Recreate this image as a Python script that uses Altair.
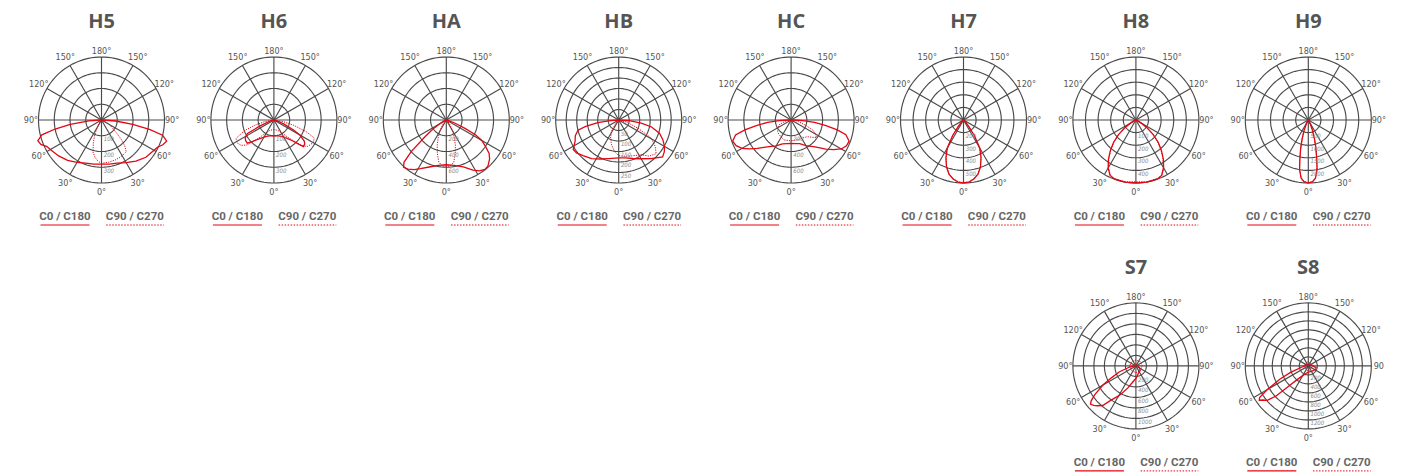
import altair as alt
import pandas as pd

# ---------------- data ----------------
NAMES = ["H5", "H6", "HA", "HB", "HC", "H7", "H8", "H9", "S7", "S8"]

# ring step (cd/klm), number of rings, ring labels
H5_STEP, H5_RINGS, H5_LABELS = 100, 4, ["100", "200", "300"]
H6_STEP, H6_RINGS, H6_LABELS = 100, 4, ["100", "200", "300"]
HA_STEP, HA_RINGS, HA_LABELS = 200, 4, ["200", "400", "600"]
HB_STEP, HB_RINGS, HB_LABELS = 50, 6, ["50", "100", "150", "200", "250"]
HC_STEP, HC_RINGS, HC_LABELS = 200, 4, ["200", "400", "600"]
H7_STEP, H7_RINGS, H7_LABELS = 100, 5, ["200", "300", "400", "500"]
H8_STEP, H8_RINGS, H8_LABELS = 100, 5, ["100", "200", "300", "400"]
H9_STEP, H9_RINGS, H9_LABELS = 500, 5, ["500", "1000", "1500", "2000"]
S7_STEP, S7_RINGS, S7_LABELS = 200, 6, ["200", "400", "600", "800", "1000"]
S8_STEP, S8_RINGS, S8_LABELS = 200, 7, ["200", "400", "600", "800", "1000", "1200"]

# gamma angle (negative = left half), intensity
H5_C0_ANG = [-180, -90, -86, -82, -79, -76, -72, -68, -64, -60, -50, -40, -30, -20, -10, 0, 10, 20, 30, 40, 50, 60, 64, 68, 72, 76, 79, 82, 86, 90, 180]
H5_C0_VAL = [0, 10, 80, 200, 300, 390, 425, 415, 385, 375, 355, 335, 310, 292, 284, 280, 284, 292, 312, 340, 368, 385, 395, 420, 435, 400, 310, 200, 90, 10, 0]
H5_C90_ANG = [-180, -60, -40, -30, -25, -20, -15, -10, -5, 0, 10, 20, 30, 38, 42, 46, 50, 60, 70, 90, 180]
H5_C90_VAL = [0, 5, 15, 50, 100, 150, 210, 240, 262, 275, 272, 268, 262, 255, 220, 170, 120, 60, 20, 0, 0]

H6_C0_ANG = [-180, -90, -75, -67, -63, -58, -54, -49, -45, -42, -35, -25, -15, 0, 15, 25, 35, 40, 45, 48, 52, 55, 60, 63, 68, 75, 90, 180]
H6_C0_VAL = [0, 0, 25, 92, 188, 215, 222, 224, 195, 172, 140, 115, 104, 100, 104, 115, 140, 164, 210, 252, 248, 236, 190, 140, 70, 25, 0, 0]
H6_C90_ANG = [-180, -90, -80, -75, -70, -64, -58, -52, -47, -40, -30, -20, 0, 20, 30, 40, 47, 52, 56, 61, 66, 70, 75, 80, 90, 180]
H6_C90_VAL = [0, 0, 60, 120, 200, 268, 275, 262, 232, 150, 90, 70, 60, 70, 90, 150, 240, 272, 280, 288, 280, 220, 130, 60, 0, 0]

HA_C0_ANG = [-180, -90, -75, -65, -60, -56, -52, -48, -45, -42, -38, -33, -28, -20, -10, 0, 10, 20, 28, 33, 38, 42, 48, 52, 56, 60, 63, 66, 70, 75, 90, 180]
HA_C0_VAL = [0, 0, 10, 40, 90, 200, 340, 600, 760, 810, 790, 750, 700, 635, 585, 568, 585, 632, 720, 770, 795, 790, 740, 690, 600, 520, 420, 260, 120, 40, 0, 0]
HA_C90_ANG = [-180, -60, -50, -40, -30, -25, -20, -15, -10, -5, 0, 5, 10, 15, 20, 25, 30, 40, 50, 60, 180]
HA_C90_VAL = [0, 0, 16, 64, 160, 240, 336, 440, 544, 584, 592, 584, 544, 440, 336, 240, 160, 64, 16, 0, 0]

HB_C0_ANG = [-180, -90, -86, -83, -79, -76, -70, -64, -57, -52, -45, -35, -25, -15, 0, 10, 20, 30, 40, 50, 55, 60, 66, 72, 78, 82, 86, 90, 180]
HB_C0_VAL = [0, 0, 40, 100, 160, 200, 220, 231, 258, 255, 240, 225, 205, 190, 180, 183, 195, 213, 240, 273, 265, 252, 230, 204, 160, 108, 50, 0, 0]
HB_C90_ANG = [-180, -60, -45, -32, -24, -16, -8, 0, 10, 20, 33, 40, 48, 54, 61, 67, 75, 90, 180]
HB_C90_VAL = [0, 0, 20, 66, 95, 123, 150, 170, 175, 182, 197, 225, 240, 215, 177, 99, 40, 0, 0]

HC_C0_ANG = [-180, -90, -87, -84, -81, -78, -75, -70, -65, -60, -55, -50, -45, -40, -30, -20, -10, 0, 10, 20, 30, 40, 45, 50, 55, 60, 65, 70, 75, 78, 81, 84, 87, 90, 180]
HC_C0_VAL = [0, 30, 150, 300, 448, 600, 730, 790, 770, 720, 640, 560, 490, 440, 380, 322, 304, 296, 304, 320, 376, 440, 496, 576, 656, 736, 776, 784, 720, 600, 448, 300, 150, 30, 0]
HC_C90_ANG = [-180, -90, -80, -70, -60, -50, -40, -20, 0, 20, 35, 45, 50, 55, 60, 65, 70, 80, 90, 180]
HC_C90_VAL = [0, 0, 60, 150, 200, 224, 240, 270, 264, 264, 272, 300, 340, 392, 360, 304, 200, 80, 0, 0]

H7_ANG = [-180, -50, -45, -40, -35, -30, -25, -20, -15, -10, -5, 0, 5, 10, 15, 20, 25, 30, 35, 40, 45, 50, 180]
H7_C0_VAL = [0, 0, 20, 60, 150, 260, 330, 395, 445, 475, 495, 500, 495, 475, 445, 395, 330, 260, 150, 60, 20, 0, 0]
H7_C90_VAL = [0, 0, 18, 58, 146, 255, 326, 392, 442, 472, 492, 497, 492, 472, 442, 392, 326, 255, 146, 58, 18, 0, 0]

H8_ANG = [-180, -90, -70, -60, -55, -50, -45, -40, -35, -30, -25, -20, -10, 0, 10, 20, 25, 30, 35, 40, 45, 50, 55, 60, 70, 90, 180]
H8_C0_VAL = [0, 0, 10, 50, 110, 180, 250, 315, 380, 440, 485, 498, 500, 500, 500, 498, 485, 440, 380, 315, 250, 180, 110, 50, 10, 0, 0]
H8_C90_VAL = [0, 0, 8, 45, 105, 175, 245, 310, 375, 436, 482, 496, 498, 490, 498, 496, 482, 436, 375, 310, 245, 175, 105, 45, 8, 0, 0]

H9_ANG = [-180, -35, -30, -26, -22, -18, -15, -12, -10, -7, -4, 0, 4, 7, 10, 12, 15, 18, 22, 26, 30, 35, 180]
H9_C0_VAL = [0, 0, 50, 200, 450, 800, 1175, 1625, 2000, 2325, 2450, 2500, 2450, 2325, 2000, 1625, 1175, 800, 450, 200, 50, 0, 0]
H9_C90_VAL = [0, 0, 45, 190, 440, 790, 1160, 1610, 1990, 2320, 2445, 2490, 2445, 2320, 1990, 1610, 1160, 790, 440, 190, 45, 0, 0]

S7_C0_ANG = [-180, -120, -90, -80, -70, -64, -60, -55, -52, -50, -47, -44, -40, -36, -30, -25, -20, -13, -5, 0, 10, 20, 40, 60, 90, 120, 180]
S7_C0_VAL = [20, 25, 25, 120, 340, 520, 720, 960, 1080, 1130, 1100, 1055, 985, 805, 660, 540, 445, 335, 265, 240, 180, 145, 120, 85, 35, 25, 20]
S7_C90_ANG = [-180, -135, -90, -45, 0, 45, 90, 135, 180]
S7_C90_VAL = [110, 115, 120, 125, 130, 125, 120, 115, 110]

S8_C0_ANG = [-180, -120, -90, -80, -70, -65, -60, -57, -55, -53, -50, -47, -44, -40, -30, -15, 0, 30, 60, 75, 90, 120, 180]
S8_C0_VAL = [25, 40, 70, 140, 420, 700, 1050, 1290, 1330, 1260, 1190, 980, 630, 420, 250, 170, 140, 140, 170, 180, 110, 40, 25]
S8_C90_ANG = [-180, -90, 0, 90, 180]
S8_C90_VAL = [100, 110, 120, 110, 100]

ANGLE_TICKS = [0, 30, 60, 90, 120, 150, 180]
LEGEND_C0 = "C0 / C180"
LEGEND_C90 = "C90 / C270"

PANELS = {
    "H5": (H5_STEP, H5_RINGS, H5_LABELS, H5_C0_ANG, H5_C0_VAL, H5_C90_ANG, H5_C90_VAL),
    "H6": (H6_STEP, H6_RINGS, H6_LABELS, H6_C0_ANG, H6_C0_VAL, H6_C90_ANG, H6_C90_VAL),
    "HA": (HA_STEP, HA_RINGS, HA_LABELS, HA_C0_ANG, HA_C0_VAL, HA_C90_ANG, HA_C90_VAL),
    "HB": (HB_STEP, HB_RINGS, HB_LABELS, HB_C0_ANG, HB_C0_VAL, HB_C90_ANG, HB_C90_VAL),
    "HC": (HC_STEP, HC_RINGS, HC_LABELS, HC_C0_ANG, HC_C0_VAL, HC_C90_ANG, HC_C90_VAL),
    "H7": (H7_STEP, H7_RINGS, H7_LABELS, H7_ANG, H7_C0_VAL, H7_ANG, H7_C90_VAL),
    "H8": (H8_STEP, H8_RINGS, H8_LABELS, H8_ANG, H8_C0_VAL, H8_ANG, H8_C90_VAL),
    "H9": (H9_STEP, H9_RINGS, H9_LABELS, H9_ANG, H9_C0_VAL, H9_ANG, H9_C90_VAL),
    "S7": (S7_STEP, S7_RINGS, S7_LABELS, S7_C0_ANG, S7_C0_VAL, S7_C90_ANG, S7_C90_VAL),
    "S8": (S8_STEP, S8_RINGS, S8_LABELS, S8_C0_ANG, S8_C0_VAL, S8_C90_ANG, S8_C90_VAL),
}

# ---------------- styling / layout ----------------
R_PX = 63.0
PANEL_W = 160
XMIN, XMAX = -PANEL_W / 2 / R_PX, PANEL_W / 2 / R_PX
YMAX = (120 - 8) / R_PX
YMIN = -1.70
PANEL_H = round((YMAX - YMIN) * R_PX, 1)
HSPACE = 12.4
TITLE_Y = (120 - 22) / R_PX

RED = "#e30613"
GRID = "#4a4a4a"
TXT = "#555555"
NARROW = "Liberation Sans Narrow, Arial Narrow, DejaVu Sans Condensed, Roboto, sans-serif"
LEG_FONT = "Roboto, Liberation Sans Narrow, sans-serif"
TITLE_FONT = "Open Sans, Lato, sans-serif"


def X():
    return alt.X("x:Q", scale=alt.Scale(domain=[XMIN, XMAX], nice=False, zero=False), axis=None)


def Y():
    return alt.Y("y:Q", scale=alt.Scale(domain=[YMIN, YMAX], nice=False, zero=False), axis=None)


def polar(chart, rexpr):
    return chart.transform_calculate(r=rexpr).transform_calculate(
        x="datum.r * sin(datum.a * PI / 180)",
        y="-datum.r * cos(datum.a * PI / 180)",
    )


def panel(name):
    step, nrings, labels, a0, v0, a90, v90 = PANELS[name]
    outer = step * nrings

    ring_df = pd.DataFrame([{"ring": k, "a": a} for k in range(1, nrings + 1) for a in range(0, 361, 3)])
    rings = polar(alt.Chart(ring_df), f"datum.ring / {nrings}").mark_line(
        color=GRID, strokeWidth=1.15
    ).encode(x=X(), y=Y(), detail="ring:N", order="a:Q")

    spoke_df = pd.DataFrame({"a": [0, 30, 60, 90, 120, 150]})
    spokes = polar(alt.Chart(spoke_df), "1").transform_calculate(
        x2="-datum.x", y2="-datum.y"
    ).mark_rule(color=GRID, strokeWidth=1.15).encode(x=X(), y=Y(), x2="x2:Q", y2="y2:Q")

    c0_df = pd.DataFrame({"a": a0, "v": v0, "i": range(len(a0))})
    c0 = polar(alt.Chart(c0_df), f"datum.v / {outer}").mark_line(
        color=RED, strokeWidth=1.3
    ).encode(x=X(), y=Y(), order="i:Q")

    c90_df = pd.DataFrame({"a": a90, "v": v90, "i": range(len(a90))})
    c90 = polar(alt.Chart(c90_df), f"datum.v / {outer}").mark_line(
        color=RED, strokeWidth=1.0, strokeDash=[1.2, 1.2]
    ).encode(x=X(), y=Y(), order="i:Q")

    rows = []
    for t in ANGLE_TICKS:
        sides = [1] if t in (0, 180) else [-1, 1]
        for s in sides:
            txt = f"{t}°"
            if name == "S8" and t == 90 and s == 1:
                txt = "90"
            rows.append({"a": t * s, "t": txt, "rr": 1.09 if t == 180 else (1.12 if t == 90 else 1.15)})
    ang_df = pd.DataFrame(rows)
    ang_labels = polar(alt.Chart(ang_df), "datum.rr").mark_text(
        font=NARROW, fontSize=9, color=TXT, align="center", baseline="middle"
    ).encode(x=X(), y=Y(), text="t:N")

    rl_df = pd.DataFrame({"k": list(range(1, len(labels) + 1)), "t": labels})
    ring_labels = alt.Chart(rl_df).transform_calculate(
        x="0.035", y=f"-datum.k / {nrings} - 0.055"
    ).mark_text(
        font=NARROW, fontSize=6, color="#8c8c8c", fontStyle="italic", align="left", baseline="middle"
    ).encode(x=X(), y=Y(), text="t:N")

    title = alt.Chart(pd.DataFrame({"t": [name]})).transform_calculate(
        x="0", y=f"{TITLE_Y:.4f}"
    ).mark_text(
        font=TITLE_FONT, fontSize=20, fontWeight="bold", color=TXT, align="center", baseline="middle"
    ).encode(x=X(), y=Y(), text="t:N")

    leg_df = pd.DataFrame({"t": [LEGEND_C0, LEGEND_C90], "x": [-0.58, 0.53]})
    leg_text = alt.Chart(leg_df).transform_calculate(y="-1.535").mark_text(
        font=LEG_FONT, fontSize=11.5, fontWeight="bold", color="#666666", align="center", baseline="middle"
    ).encode(x=X(), y=Y(), text="t:N")

    ul0 = alt.Chart(pd.DataFrame({"x": [-0.968], "x2": [-0.19]})).transform_calculate(y="-1.667").mark_rule(
        color=RED, strokeWidth=1.2
    ).encode(x=X(), x2="x2:Q", y=Y())
    ul90 = alt.Chart(pd.DataFrame({"x": [0.075], "x2": [0.99]})).transform_calculate(y="-1.667").mark_rule(
        color=RED, strokeWidth=1.0, strokeDash=[1.5, 1.5]
    ).encode(x=X(), x2="x2:Q", y=Y())

    return alt.layer(
        rings, spokes, c90, c0, ang_labels, ring_labels, title, leg_text, ul0, ul90
    ).properties(width=PANEL_W, height=PANEL_H)


top = alt.hconcat(*[panel(n) for n in NAMES[:8]], spacing=HSPACE)

spacer = alt.Chart(pd.DataFrame({"x": [0.0], "y": [0.0]})).mark_point(opacity=0).encode(
    x=X(), y=Y()
).properties(width=round(6 * PANEL_W + 5 * HSPACE, 1), height=PANEL_H)

bottom = alt.hconcat(spacer, panel("S7"), panel("S8"), spacing=HSPACE)

chart = alt.vconcat(top, bottom, spacing=round(245 - PANEL_H, 1)).properties(
    padding={"left": 13.5, "top": 0, "right": 4, "bottom": 0},
    background="white",
).configure_view(stroke=None)

chart.save("out.html", embed_options={"renderer": "svg", "actions": False})
